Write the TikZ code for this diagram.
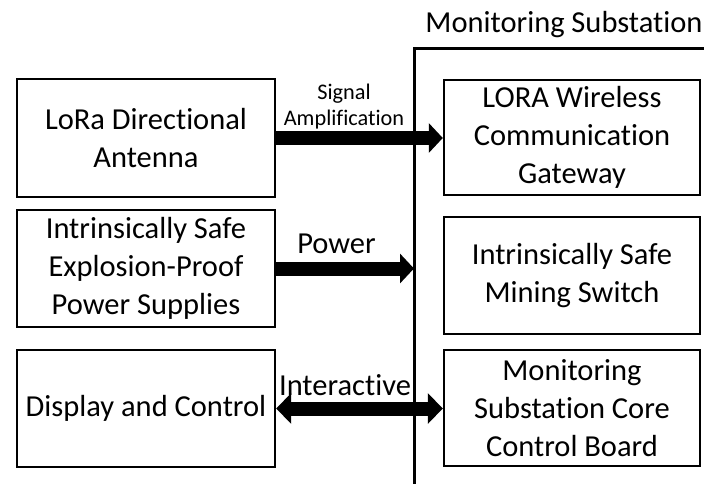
\documentclass[tikz,border=0pt]{standalone}
\usepackage{fontspec}
\setmainfont{Carlito}[RawFeature={-liga}]
\usetikzlibrary{arrows.meta}
\begin{document}
\begin{tikzpicture}[x=1pt,y=-1pt,
  blk/.style={draw,line width=2.4pt,align=center,inner sep=0pt,
    font=\fontsize{30.5}{38}\selectfont},
  lblk/.style={blk,minimum width=258pt},
  rblk/.style={blk,minimum width=256pt},
  frame/.style={line width=3pt},
  tag/.style={inner sep=0pt,font=\fontsize{30.5}{38}\selectfont},
  smalltag/.style={inner sep=0pt,align=center,font=\fontsize{22.3}{26}\selectfont},
  fat/.style={line width=14pt,-{Triangle[length=14pt,width=29pt]}},
  fatboth/.style={line width=14pt,{Triangle[length=15pt,width=30pt]}-{Triangle[length=15pt,width=30pt]}}]
\useasboundingbox (0,0) rectangle (704,483);
\clip (0,0) rectangle (704,483);

% left column
\node[lblk,minimum height=118pt] (ant) at (146,138) {LoRa Directional\\Antenna};
\node[lblk,minimum height=117pt] (psu) at (146,268.5) {Intrinsically Safe\\Explosion-Proof\\Power Supplies};
\node[lblk,minimum height=117pt] (disp) at (146,408.5) {Display and Control};

% right column, inside the substation
\node[rblk,minimum height=115pt] (gw) at (572,137.5) {LORA Wireless\\Communication\\Gateway};
\node[rblk,minimum height=117pt] (sw) at (572,275.5) {Intrinsically Safe\\Mining Switch};
\node[rblk,minimum height=116pt] (core) at (572,408) {Monitoring\\Substation Core\\Control Board};

% substation border
\coordinate (corner) at (414,48);
\coordinate (topend) at (712,48);
\coordinate (botend) at (414,492);
\draw[frame] (topend) -- (corner) -- (botend);
\node[tag,anchor=base] (title) at (564,32) {Monitoring Substation};

% links
\draw[fat] (ant.east) -- (ant.east -| gw.west);
\node[smalltag] (sig) at (344,107) {Signal\\Amplification};

\draw[fat] (psu.east) -- (psu.east -| corner);
\node[tag,anchor=base] (pow) at (336.5,253) {Power};

\draw[fatboth] (disp.east) -- (disp.east -| core.west);
\node[tag,anchor=base] (inter) at (345,395) {Interactive};
\end{tikzpicture}
\end{document}
